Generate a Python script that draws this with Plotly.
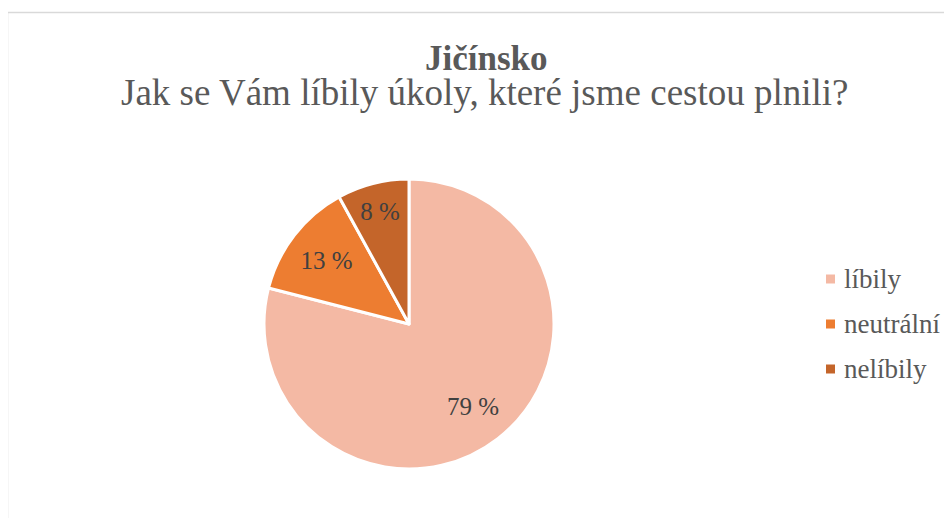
import plotly.graph_objects as go

categories = ["líbily", "neutrální", "nelíbily"]
values = [79, 13, 8]
colors = ["#F4B9A4", "#ED7D31", "#C4652A"]
title_main = "Jičínsko"
title_sub = "Jak se Vám líbily úkoly, které jsme cestou plnili?"

OFF = 8  # default body margin of the page
W, H = 952 - OFF, 518 - OFF
FONT = "Liberation Serif"

def px(x):
    return (x - OFF) / W

def py(y):
    return 1 - (y - OFF) / H

pie_domain = dict(x=[px(264), px(554)], y=[py(469), py(179)])

fig = go.Figure()
# the coloured pie
fig.add_trace(go.Pie(
    labels=categories,
    values=values,
    sort=False,
    direction="clockwise",
    rotation=0,
    marker=dict(colors=colors, line=dict(color="white", width=3)),
    textinfo="none",
    domain=pie_domain,
    showlegend=False,
    hoverinfo="label+value",
))
# transparent ring on top carrying the data labels further out (as in the original)
fig.add_trace(go.Pie(
    labels=categories,
    values=values,
    sort=False,
    direction="clockwise",
    rotation=0,
    hole=0.44,
    marker=dict(colors=["rgba(0,0,0,0)"] * len(values), line=dict(width=0)),
    texttemplate="%{value} %",
    textposition="inside",
    insidetextorientation="horizontal",
    textfont=dict(family=FONT, size=25, color="#404040"),
    domain=pie_domain,
    showlegend=False,
    hoverinfo="skip",
))

shapes = [dict(type="rect", xref="paper", yref="paper",
               x0=px(7.5), x1=1.05, y0=-0.05, y1=py(12.5),
               line=dict(color="#D9D9D9", width=1.5), fillcolor="rgba(0,0,0,0)", layer="below")]
annotations = []
for i, (cat, col) in enumerate(zip(categories, colors)):
    cy = 279 + 45 * i
    shapes.append(dict(type="rect", xref="paper", yref="paper",
                       x0=px(826), x1=px(835), y0=py(cy + 4.5), y1=py(cy - 4.5),
                       fillcolor=col, line=dict(width=0)))
    annotations.append(dict(xref="paper", yref="paper", x=px(842), y=py(cy),
                            xanchor="left", yanchor="middle", showarrow=False,
                            text=cat, font=dict(family=FONT, size=27, color="#595959")))

annotations.append(dict(xref="paper", yref="paper", x=px(486), y=py(37),
                        xanchor="center", yanchor="top", showarrow=False,
                        text="<b>" + title_main + "</b>",
                        font=dict(family=FONT, size=35, color="#595959")))
annotations.append(dict(xref="paper", yref="paper", x=px(485), y=py(70),
                        xanchor="center", yanchor="top", showarrow=False,
                        text=title_sub,
                        font=dict(family=FONT, size=37, color="#595959")))

fig.update_layout(
    width=W, height=H,
    margin=dict(l=0, r=0, t=0, b=0),
    paper_bgcolor="white", plot_bgcolor="white",
    shapes=shapes, annotations=annotations,
)

fig.write_html("out.html")
